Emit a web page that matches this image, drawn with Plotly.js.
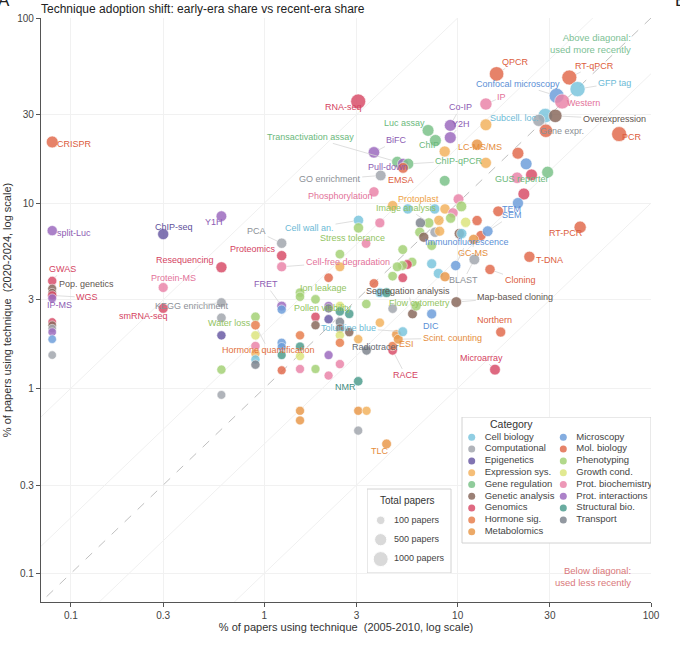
<!DOCTYPE html>
<html>
<head>
<meta charset="utf-8">
<script src="https://cdn.plot.ly/plotly-3.0.1.min.js"></script>
<style>
  html, body { margin: 0; padding: 0; background: #fff; }
  #chart { width: 680px; height: 653px; }
</style>
</head>
<body>
<div id="chart"></div>
<script>
// ── Categories ─────────────────────────────────────────
const categories = ['Cell biology', 'Computational', 'Epigenetics', 'Expression sys.', 'Gene regulation',
  'Genetic analysis', 'Genomics', 'Hormone sig.', 'Metabolomics', 'Microscopy', 'Mol. biology',
  'Phenotyping', 'Growth cond.', 'Prot. biochemistry', 'Prot. interactions', 'Structural bio.', 'Transport'];
const catKeys = ['cell', 'comp', 'epi', 'expr', 'greg', 'gan', 'geno', 'horm', 'meta', 'mic', 'mol',
  'phen', 'grow', 'pbio', 'pint', 'str', 'tran'];
const catColors = ['#7cc6de', '#a3a7ae', '#6b5ca5', '#f3b360', '#7cc38a', '#8a6a5e', '#d94f6b', '#e8804f',
  '#e99a4c', '#6f9fdb', '#e26d4f', '#a5d277', '#dce57e', '#ea86aa', '#9d6cbf', '#4f9e8f', '#7f868f'];
const catTextColors = ['#6cbad6', '#8b8f96', '#5e4f9a', '#ee9f45', '#6bb97c', '#5f5550', '#d4435f', '#e2703d',
  '#e58d3c', '#5b8fd6', '#dc5d40', '#92c45f', '#b9c24e', '#e3739a', '#8d5cb3', '#3f8d7f', '#646a72'];

// ── Techniques (name, category, % early era, % recent era, total papers) ──
const technique = [
  'CRISPR', 'split-Luc', 'GWAS', 'Pop. genetics', '', 'WGS', 'IP-MS', '', '', '', '', '', '',
  'ChIP-seq', 'Protein-MS', 'smRNA-seq',
  'Y1H', 'Resequencing', 'KEGG enrichment', '', '', '', '',
  'Water loss', 'Hormone quantification', '', '', '', '', '',
  'PCA', 'Proteomics', 'Cell-free degradation', 'FRET', '', '', '', '', '',
  'Ion leakage', '', '', '', '', '', '', '',
  'Pollen viability', '', '', '',
  '', '', '', '', '', '',
  '', '', '', '', '', '', '', '', '',
  '', '',
  'RNA-seq', 'Cell wall an.', 'Stress tolerance', '', 'NMR', '', '', '', 'TLC', 'Radiotracer', '', '',
  'BiFC', 'Phosphorylation', '', 'GO enrichment', '', '', '', '', 'Protoplast', '',
  '', 'RACE', '', 'ESI', 'Scint. counting', 'Transactivation assay', 'Pull-down', 'ChIP-qPCR', 'EMSA', '',
  '', 'Toluidine blue', '', '', '', '', '', 'Segregation analysis', 'Flow cytometry',
  'Luc assay', 'ChIP', 'Co-IP', 'Y2H', '', '', 'IP', '', 'QPCR', 'LC-MS/MS',
  '', '', '', '', 'GUS reporter', '', '', '', '', '',
  '', '', '', '', 'Image analysis', '', '', '', '', '',
  '', '', '', '', '', '', 'GC-MS', 'SEM', '', 'TEM',
  'T-DNA', 'Cloning', 'BLAST', 'Immunofluorescence', '', '', '', 'Map-based cloning', 'DIC', 'Northern',
  'Microarray', 'RT-PCR', 'Confocal microscopy', 'Western', 'RT-qPCR', 'GFP tag', 'Subcell. loc.', 'Gene expr.', 'Overexpression', '',
  'PCR'
];
const category = [
  'mol', 'pint', 'geno', 'gan', 'gan', 'geno', 'pint', 'geno', 'gan', 'comp', 'pint', 'mic', 'comp',
  'epi', 'pbio', 'geno',
  'pint', 'geno', 'comp', 'comp', 'epi', 'phen', 'comp',
  'phen', 'horm', 'grow', 'pbio', 'expr', 'cell', 'tran',
  'comp', 'geno', 'pbio', 'pint', 'mic', 'mic', 'mic', 'str', 'mol',
  'phen', 'phen', 'horm', 'str', 'grow', 'pbio', 'meta', 'meta',
  'phen', 'geno', 'gan', 'phen',
  'pint', 'tran', 'epi', 'pint', 'pbio', 'mol',
  'grow', 'str', 'tran', 'gan', 'grow', 'horm', 'pbio', 'phen', 'expr',
  'str', 'gan',
  'geno', 'cell', 'phen', 'expr', 'str', 'meta', 'expr', 'comp', 'meta', 'tran', 'pbio', 'phen',
  'pint', 'pbio', 'mol', 'comp', 'pbio', 'cell', 'str', 'expr', 'expr', 'comp',
  'phen', 'geno', 'horm', 'meta', 'meta', 'greg', 'pint', 'greg', 'mol', 'phen',
  'geno', 'cell', 'cell', 'phen', 'geno', 'phen', 'phen', 'gan', 'phen',
  'greg', 'greg', 'pint', 'pint', 'greg', 'expr', 'pbio', 'expr', 'mol', 'meta',
  'expr', 'mol', 'mic', 'pbio', 'greg', 'geno', 'geno', 'pbio', 'phen', 'cell',
  'expr', 'pbio', 'phen', 'expr', 'phen', 'tran', 'phen', 'comp', 'expr', 'gan',
  'phen', 'grow', 'mol', 'gan', 'cell', 'mol', 'meta', 'mic', 'mol', 'mic',
  'mol', 'mol', 'comp', 'mic', 'cell', 'cell', 'meta', 'gan', 'mic', 'mol',
  'geno', 'mol', 'mic', 'pbio', 'mol', 'cell', 'cell', 'comp', 'gan', 'mol',
  'mol'
];
const early = [
  0.08, 0.08, 0.08, 0.08, 0.08, 0.08, 0.08, 0.08, 0.08, 0.08, 0.08, 0.08, 0.08,
  0.3, 0.3, 0.3,
  0.6, 0.6, 0.6, 0.6, 0.6, 0.6, 0.6,
  0.9, 0.9, 0.9, 0.9, 0.9, 0.9, 0.9,
  1.23, 1.23, 1.23, 1.23, 1.23, 1.23, 1.23, 1.23, 1.23,
  1.53, 1.53, 1.53, 1.53, 1.53, 1.53, 1.53, 1.53,
  1.84, 1.84, 1.84, 1.84,
  2.15, 2.15, 2.15, 2.15, 2.15, 2.15,
  2.46, 2.46, 2.46, 2.46, 2.46, 2.46, 2.46, 2.46, 2.46,
  2.75, 2.75,
  3.06, 3.07, 3.07, 3.06, 3.06, 3.06, 3.38, 3.06, 4.29, 3.38, 3.36, 3.37,
  3.69, 3.69, 3.69, 4.0, 3.96, 3.96, 4.29, 3.96, 4.61, 4.61,
  4.61, 4.61, 4.61, 4.83, 4.93, 4.87, 5.22, 5.55, 5.22, 5.2,
  5.2, 5.2, 5.52, 5.81, 5.49, 5.18, 4.87, 5.84, 6.1,
  7.03, 7.67, 9.16, 9.16, 8.57, 8.57, 14.0, 14.0, 15.9, 12.6,
  14.0, 20.5, 22.6, 20.3, 29.2, 24.1, 22.0, 10.1, 10.45, 7.61,
  8.6, 9.46, 9.2, 8.0, 7.09, 6.42, 6.37, 7.64, 8.07, 6.68,
  7.34, 11.0, 12.6, 10.2, 10.5, 13.2, 12.1, 14.3, 16.2, 20.5,
  23.5, 14.7, 12.2, 9.77, 7.34, 7.95, 8.6, 9.84, 7.34, 16.7,
  15.6, 43.0, 32.5, 34.7, 37.8, 41.7, 28.4, 26.3, 32.0, 28.6,
  68.4
];
const recent = [
  21.4, 7.1, 3.8, 3.45, 3.28, 3.17, 3.06, 2.28, 2.19, 2.10, 2.01, 1.84, 1.51,
  6.8, 3.5, 2.7,
  8.5, 4.5, 2.9, 2.4, 1.93, 1.26, 0.92,
  2.43, 2.19, 1.93, 1.69, 1.54, 1.43, 1.34,
  6.07, 5.2, 4.53, 2.78, 2.66, 1.76, 1.67, 1.51, 1.25,
  3.28, 3.12, 1.93, 1.68, 1.49, 1.27, 0.755, 0.67,
  3.02, 2.43, 2.19, 1.27,
  2.78, 2.70, 2.36, 1.51, 1.17, 3.95,
  2.78, 2.6, 2.28, 2.1, 1.93, 1.76, 1.35, 5.3, 4.53,
  2.52, 2.01,
  35.4, 8.07, 7.35, 1.84, 1.09, 0.755, 0.755, 0.59, 0.50, 1.60, 6.05, 2.85,
  18.8, 11.5, 3.68, 14.1, 7.82, 3.28, 3.28, 2.26, 9.7, 2.69,
  4.03, 1.60, 1.69, 1.95, 1.84, 16.7, 16.3, 16.3, 15.5, 5.61,
  3.95, 2.02, 9.3, 4.8, 4.66, 4.6, 4.53, 2.52, 2.78,
  24.7, 21.8, 26.3, 22.6, 13.2, 19.0, 34.3, 26.5, 49.9, 20.7,
  16.5, 18.6, 16.3, 13.7, 14.7, 14.2, 11.2, 10.5, 9.6, 9.3,
  9.3, 8.85, 8.3, 8.07, 7.82, 7.82, 6.96, 6.96, 7.05, 6.54,
  5.9, 7.88, 8.05, 6.85, 6.85, 6.68, 6.36, 7.05, 9.03, 10.0,
  5.13, 4.38, 4.96, 4.6, 4.7, 4.17, 4.0, 2.92, 2.52, 2.01,
  1.26, 7.41, 38.0, 35.4, 47.7, 41.3, 29.7, 28.0, 29.6, 24.6,
  23.6
];
const papers = [
  450, 250, 150, 130, 110, 160, 120, 100, 100, 100, 100, 100, 100,
  350, 220, 220,
  300, 350, 200, 180, 150, 150, 120,
  180, 180, 160, 160, 150, 150, 150,
  250, 250, 230, 200, 150, 150, 130, 130, 130,
  180, 160, 150, 140, 140, 140, 140, 140,
  180, 160, 150, 140,
  150, 150, 150, 140, 140, 170,
  160, 160, 160, 150, 150, 150, 150, 180, 200,
  160, 160,
  1000, 250, 250, 150, 170, 140, 140, 140, 200, 170, 180, 170,
  400, 250, 180, 300, 220, 200, 200, 160, 250, 170,
  180, 170, 160, 200, 200, 350, 350, 350, 300, 200,
  180, 200, 250, 200, 200, 200, 200, 200, 220,
  450, 450, 450, 450, 300, 350, 500, 450, 900, 350,
  350, 450, 450, 400, 450, 450, 450, 300, 300, 250,
  250, 250, 250, 250, 250, 250, 230, 250, 230, 230,
  200, 250, 250, 250, 250, 250, 250, 300, 300, 350,
  350, 250, 300, 250, 230, 230, 230, 300, 230, 230,
  300, 500, 1000, 1000, 1000, 1050, 900, 500, 700, 700,
  1000
];
const sizeLegendPapers = [100, 500, 1000];
const ticks = [0.1, 0.3, 1, 3, 10, 30, 100];

// label placement: pixel offset of the text from its point
const labelOffsets = {
  'CRISPR': [22, 2], 'split-Luc': [22, 2], 'GWAS': [10, -12], 'Pop. genetics': [34, -5], 'WGS': [35, 2],
  'IP-MS': [7, 7], 'ChIP-seq': [11, -7], 'Protein-MS': [10, -10], 'smRNA-seq': [-20, 8], 'Y1H': [-7, 6],
  'Resequencing': [-36, -7], 'KEGG enrichment': [-29, 3], 'PCA': [-25, -12], 'Proteomics': [-29, -7],
  'FRET': [-16, -22], 'Water loss': [-26, 6], 'Hormone quantification': [13, 25], 'Ion leakage': [23, -5],
  'Pollen viability': [7, 9], 'Toluidine blue': [-54, -4], 'Radiotracer': [9, -3], 'ESI': [10, 9],
  'Scint. counting': [54, -1], 'DIC': [-1, 12], 'RACE': [13, 25], 'NMR': [-13, 6], 'TLC': [-7, 7],
  'Map-based cloning': [59, -5], 'Northern': [-6, -12], 'Microarray': [-13, -12], 'BLAST': [-11, 21],
  'GC-MS': [-1, 14], 'Cloning': [30, 11], 'T-DNA': [20, 3], 'RT-PCR': [-14, 6], 'Immunofluorescence': [11, -24],
  'TEM': [-6, 6], 'SEM': [24, -16], 'GUS reporter': [-26, 7], 'Gene expr.': [23, 11], 'Overexpression': [59, 3],
  'Subcell. loc.': [-31, 2], 'Western': [21, 2], 'Confocal microscopy': [-39, -12], 'GFP tag': [37, -6],
  'RT-qPCR': [25, -12], 'QPCR': [19, -12], 'IP': [16, -7], 'Co-IP': [10, -18], 'Y2H': [11, -14],
  'Luc assay': [-24, -7], 'ChIP': [-6, 5], 'LC-MS/MS': [3, 2], 'ChIP-qPCR': [51, -3], 'BiFC': [23, -12],
  'Pull-down': [-15, 3], 'EMSA': [-2, 12], 'Transactivation assay': [-87, -25], 'GO enrichment': [-51, 4],
  'Phosphorylation': [-33, 4], 'RNA-seq': [-15, 6], 'Protoplast': [26, -7], 'Image analysis': [-22, -15],
  'Cell wall an.': [-49, 8], 'Stress tolerance': [-6, 10], 'Cell-free degradation': [66, -5],
  'Segregation analysis': [-4, -23], 'Flow cytometry': [3, -3], 'PCR': [13, 3]
};

const FONT = 'Liberation Sans, Arial, Helvetica, sans-serif';
const sizeOf = n => 5.5 + 0.3 * Math.sqrt(n);
const colorOf = k => catColors[catKeys.indexOf(k)];
const textColorOf = k => catTextColors[catKeys.indexOf(k)];

// ── Guide lines (y = x and faint multiples) ────────────
const guides = [10, 2, 0.5, 0.1].map(k => ({
  type: 'scatter', mode: 'lines', x: [0.01, 1000], y: [0.01 * k, 1000 * k],
  line: { color: '#f0f0f0', width: 1 }, hoverinfo: 'skip', showlegend: false,
}));
guides.push({
  type: 'scatter', mode: 'lines', x: [0.01, 1000], y: [0.01, 1000],
  line: { color: '#b8b8b8', width: 0.9, dash: 'dash' }, hoverinfo: 'skip', showlegend: false,
});

const points = {
  type: 'scatter', mode: 'markers', x: early, y: recent, text: technique,
  marker: {
    size: papers.map(sizeOf), color: category.map(colorOf), opacity: 0.85,
    line: { color: '#ffffff', width: 0.6 },
  },
  hoverinfo: 'text', showlegend: false,
};

// ── Legends (inset axes in pixel units) ────────────────
const rowY = i => 437.3 + (i % 9) * 11.8;
const colX = i => (i < 9 ? 471.7 : 563.3);
const legendMarks = {
  type: 'scatter', mode: 'markers', xaxis: 'x2', yaxis: 'y2',
  x: categories.map((_, i) => colX(i)), y: categories.map((_, i) => rowY(i)),
  marker: { size: 7, color: catColors, opacity: 0.85 }, hoverinfo: 'skip', showlegend: false,
};
const legendText = {
  type: 'scatter', mode: 'text', xaxis: 'x2', yaxis: 'y2',
  x: categories.map((_, i) => colX(i) + 13), y: categories.map((_, i) => rowY(i)),
  text: categories, textposition: 'middle right',
  textfont: { family: FONT, size: 9.5, color: '#444' }, hoverinfo: 'skip', showlegend: false,
};
const sizeMarks = {
  type: 'scatter', mode: 'markers', xaxis: 'x2', yaxis: 'y2',
  x: sizeLegendPapers.map(() => 380.7), y: sizeLegendPapers.map((_, i) => 520.3 + i * 19.4),
  marker: { size: sizeLegendPapers.map(sizeOf), color: '#c9c9c9' }, hoverinfo: 'skip', showlegend: false,
};
const sizeText = {
  type: 'scatter', mode: 'text', xaxis: 'x2', yaxis: 'y2',
  x: sizeLegendPapers.map(() => 394), y: sizeLegendPapers.map((_, i) => 520.3 + i * 19.4),
  text: sizeLegendPapers.map(n => n + ' papers'), textposition: 'middle right',
  textfont: { family: FONT, size: 9, color: '#444' }, hoverinfo: 'skip', showlegend: false,
};

// ── Labels ─────────────────────────────────────────────
const annotations = [];
technique.forEach((name, i) => {
  if (!name) return;
  const off = labelOffsets[name] || [0, -12];
  annotations.push({
    x: Math.log10(early[i]), y: Math.log10(recent[i]), xref: 'x', yref: 'y',
    text: name, showarrow: true, ax: off[0], ay: off[1],
    arrowhead: 0, arrowwidth: 0.8, arrowcolor: '#d6d6d6', standoff: sizeOf(papers[i]) / 2,
    font: { family: FONT, size: 9, color: textColorOf(category[i]) },
  });
});
annotations.push(
  { xref: 'x2', yref: 'y2', x: 488, y: 424, text: 'Category', showarrow: false, xanchor: 'left', yanchor: 'middle',
    font: { family: FONT, size: 10.5, color: '#333' } },
  { xref: 'x2', yref: 'y2', x: 407, y: 500.7, text: 'Total papers', showarrow: false, xanchor: 'center', yanchor: 'middle',
    font: { family: FONT, size: 10, color: '#333' } },
  { xref: 'paper', yref: 'paper', x: 0.9705, y: (602 - 44) / 584, xanchor: 'right', yanchor: 'middle', align: 'right',
    text: 'Above diagonal:<br>used more recently', showarrow: false,
    font: { family: FONT, size: 9.5, color: '#7dbf95' } },
  { xref: 'paper', yref: 'paper', x: 0.9705, y: (602 - 576) / 584, xanchor: 'right', yanchor: 'middle', align: 'right',
    text: 'Below diagonal:<br>used less recently', showarrow: false,
    font: { family: FONT, size: 9.5, color: '#d9787a' } },
  { xref: 'paper', yref: 'paper', x: (4 - 41) / 610, y: (602 - 1) / 584, xanchor: 'center', yanchor: 'middle',
    text: 'A', showarrow: false, font: { family: FONT, size: 17, color: '#222' } },
  { xref: 'paper', yref: 'paper', x: (680 - 41) / 610, y: (602 - 1) / 584, xanchor: 'center', yanchor: 'middle',
    text: 'B', showarrow: false, font: { family: FONT, size: 17, color: '#222' } }
);

const axisBase = {
  type: 'log', range: [Math.log10(0.07), 2], tickvals: ticks, ticktext: ticks.map(String),
  showline: true, linecolor: '#555', linewidth: 1.2, ticks: 'outside', ticklen: 4, tickcolor: '#555',
  showgrid: true, gridcolor: '#f1f1f1', gridwidth: 1, zeroline: false,
  tickfont: { family: FONT, size: 10, color: '#444' },
};

const layout = {
  width: 680, height: 653,
  paper_bgcolor: '#ffffff', plot_bgcolor: 'rgba(0,0,0,0)',
  margin: { l: 41, r: 29, t: 18, b: 51 },
  font: { family: FONT, color: '#333' },
  hovermode: false,
  title: {
    text: 'Technique adoption shift: early-era share vs recent-era share',
    xref: 'container', yref: 'container', x: 41 / 680, xanchor: 'left', y: 1 - 9 / 653, yanchor: 'middle',
    font: { family: FONT, size: 12, color: '#222' },
  },
  xaxis: { ...axisBase, title: { text: '% of papers using technique  (2005-2010, log scale)', standoff: 3,
    font: { family: FONT, size: 11, color: '#333' } } },
  yaxis: { ...axisBase, title: { text: '% of papers using technique  (2020-2024, log scale)', standoff: 3,
    font: { family: FONT, size: 11, color: '#333' } } },
  xaxis2: { domain: [(367 - 41) / 610, 1], range: [367, 651], visible: false, fixedrange: true, anchor: 'y2' },
  yaxis2: { domain: [(602 - 573) / 584, (602 - 417) / 584], range: [573, 417], visible: false, fixedrange: true, anchor: 'x2' },
  shapes: [
    { type: 'rect', xref: 'x2', yref: 'y2', x0: 462, x1: 651, y0: 417, y1: 543,
      line: { color: '#d2d2d2', width: 1 }, fillcolor: '#ffffff', layer: 'below' },
    { type: 'rect', xref: 'x2', yref: 'y2', x0: 367, x1: 451, y0: 489, y1: 573,
      line: { color: '#d2d2d2', width: 1 }, fillcolor: '#ffffff', layer: 'below' },
  ],
  annotations,
};

Plotly.newPlot('chart', [...guides, points, legendMarks, legendText, sizeMarks, sizeText], layout,
  { displayModeBar: false, responsive: false });
</script>
</body>
</html>
